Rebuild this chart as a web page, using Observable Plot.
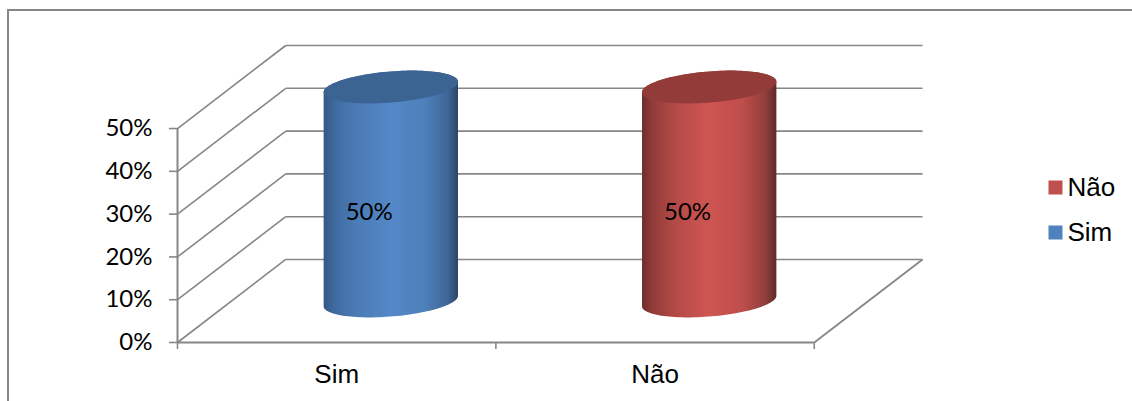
<!DOCTYPE html>
<html>
<head>
<meta charset="utf-8">
<script src="https://cdn.jsdelivr.net/npm/d3@7"></script>
<script src="https://cdn.jsdelivr.net/npm/@observablehq/plot@0.6"></script>
<style>
  html, body { margin: 0; background: #fff; overflow: hidden; }
  #chart { position: relative; width: 1132px; height: 401px; overflow: hidden; }
  #frame { position: absolute; left: 7px; top: 9px; width: 1200px; height: 500px;
           border-left: 2px solid #868686; border-top: 2px solid #868686; }
  svg { position: absolute; left: 0; top: 0; background: none; }
</style>
</head>
<body>
<div id="chart"><div id="frame"></div></div>
<script>
// Survey answers
const categories = ["Sim", "Não"];
const values = [50, 50];
const yTicks = [0, 10, 20, 30, 40, 50];
const legendLabels = ["Não", "Sim"];
const legendColors = ["#c0504d", "#4f81bd"];

// Oblique 3D: a unit of depth moves a point right and up, in data units.
const depthX = 0.34;
const depthY = 19.4;
const project = (x, y, d) => ({x: x + d * depthX, y: y + d * depthY});

// Cylinder footprint, in category units and depth units.
const radiusX = 0.2;
const radiusD = 0.198;
const angles = d3.range(0, 2 * Math.PI, Math.PI / 60);
const ring = (center, level) =>
  angles.map((t) => project(center + radiusX * Math.cos(t), level, 0.5 + radiusD * Math.sin(t)));

const ink = "#868686";

// Walls and floor
const wallLines = yTicks.map((v) => ({a: project(0, v, 1), b: project(2, v, 1)}));
const sideLines = yTicks.map((v) => ({a: project(0, v, 0), b: project(0, v, 1)}));
const floorEdge = [{a: project(2, 0, 0), b: project(2, 0, 1)}];
const link = (data, strokeWidth) => Plot.link(data, {
  x1: (d) => d.a.x, y1: (d) => d.a.y, x2: (d) => d.b.x, y2: (d) => d.b.y,
  stroke: ink, strokeWidth
});

// Cylinders: the silhouette takes the side shading, the top ring is flat.
const cylinderMarks = categories.flatMap((c, i) => {
  const center = i + 0.5;
  const top = ring(center, values[i]);
  const bottom = ring(center, 0);
  const hull = d3.polygonHull([...top, ...bottom].map((p) => [p.x, p.y]));
  return [
    Plot.line(hull, {x: "0", y: "1", curve: "linear-closed", fill: `url(#side-${i})`, stroke: "none"}),
    Plot.line(top, {x: "x", y: "y", curve: "linear-closed", fill: i ? "#933b39" : "#3b6493", stroke: "none"})
  ];
});

const labelFont = "Lato, sans-serif";
const latinFont = "'Liberation Sans', Arial, sans-serif";

const plot = Plot.plot({
  width: 1132,
  height: 401,
  marginLeft: 177,
  marginRight: 210,
  marginTop: 45,
  marginBottom: 59,
  style: {background: "none", overflow: "visible"},
  x: {type: "linear", domain: [0, 2 + depthX], axis: null},
  y: {type: "linear", domain: [0, 50 + depthY], axis: null},
  marks: [
    link(wallLines, 1.6),
    link(sideLines, 1.6),
    link(floorEdge, 1.8),
    Plot.ruleY([0], {x1: 0, x2: 2, stroke: ink, strokeWidth: 2}),
    Plot.ruleX([0], {y1: 0, y2: 50, stroke: ink, strokeWidth: 2}),
    Plot.axisY({ticks: yTicks, tickSize: 8, tickPadding: 17, tickFormat: (d) => d + "%",
      label: null, stroke: ink, strokeWidth: 1.6, fill: "#000", fontSize: 24, fontFamily: labelFont}),
    Plot.axisX({ticks: [0, 1, 2], tickSize: 7, tickFormat: () => "", label: null, stroke: ink, strokeWidth: 1.6}),
    Plot.axisX({ticks: [0.5, 1.5], tickSize: 0, tickPadding: 22, tickFormat: (d) => categories[Math.floor(d)],
      label: null, fill: "#000", fontSize: 26, fontFamily: latinFont}),
    ...cylinderMarks,
    Plot.text(values, {
      x: (v, i) => project(i + 0.5, v / 2, 0.3).x,
      y: (v) => project(0, v / 2, 0.3).y,
      text: (v) => v + "%", dy: 2,
      fill: "#000", fontSize: 24, fontFamily: labelFont
    }),
    // Legend to the right of the plot area
    ...legendLabels.flatMap((label, i) => [
      Plot.dot([label], {frameAnchor: "top-right", dx: 133, dy: 142 + 45 * i, symbol: "square", r: 7.9,
        fill: legendColors[i], stroke: "none"}),
      Plot.text([label], {frameAnchor: "top-right", dx: 145, dy: 142 + 45 * i, textAnchor: "start",
        lineAnchor: "middle", fill: "#000", fontSize: 26, fontFamily: latinFont})
    ])
  ]
});

// Side shading for the cylinders
const sideOffsets = [0, 0.08, 0.25, 0.5, 0.75, 0.92, 1];
const sideStops = [
  ["#335783", "#3f6a9f", "#4b7cb7", "#5487c6", "#4e80bb", "#3f6798", "#2a4566"],
  ["#702e2c", "#923c3a", "#b44a47", "#cf5552", "#bd4e4b", "#8f3e3c", "#5f2928"]
];
const defs = d3.select(plot).insert("defs", ":first-child");
sideStops.forEach((stops, i) => {
  const g = defs.append("linearGradient").attr("id", `side-${i}`);
  sideOffsets.forEach((o, k) =>
    g.append("stop").attr("offset", o).attr("stop-color", stops[k]));
});

document.getElementById("chart").appendChild(plot);
</script>
</body>
</html>
